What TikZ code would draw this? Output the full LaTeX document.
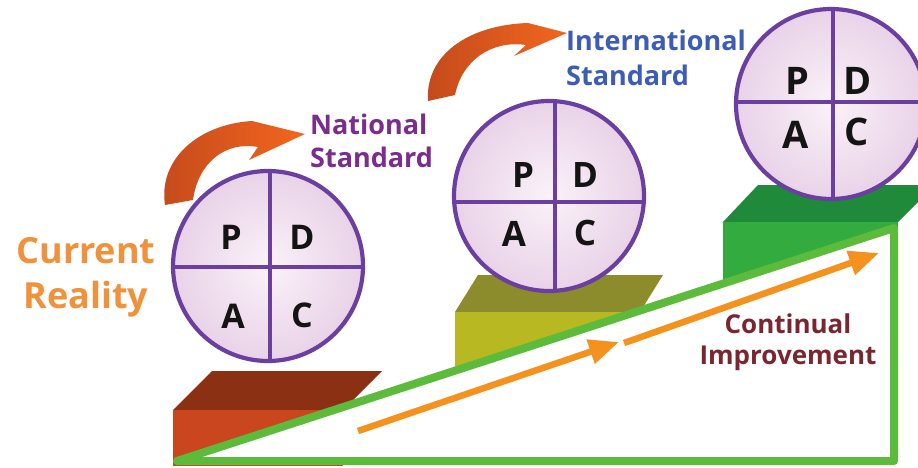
\documentclass[tikz,border=0pt]{standalone}
\usepackage{fontspec}
\setmainfont{Open Sans}
\usetikzlibrary{arrows.meta}
\definecolor{crColor}{HTML}{F0923C}
\definecolor{nsColor}{HTML}{7B2D8E}
\definecolor{isColor}{HTML}{3D5CB5}
\definecolor{ciColor}{HTML}{7A2630}
\definecolor{ringColor}{HTML}{6B3FA0}
\definecolor{discIn}{HTML}{FAF2F8}
\definecolor{discOut}{HTML}{E9D2E8}
\definecolor{brownTop}{HTML}{8C3014}
\definecolor{brownFront}{HTML}{C9461E}
\definecolor{oliveTop}{HTML}{8C8C2C}
\definecolor{oliveFront}{HTML}{B8B822}
\definecolor{greenTop}{HTML}{1E8A3A}
\definecolor{greenFront}{HTML}{33AB3F}
\definecolor{frameGreen}{HTML}{5CBB3A}
\definecolor{arrowOrange}{HTML}{F5921E}
\definecolor{curveA}{HTML}{C44A1C}
\definecolor{curveB}{HTML}{F2661E}
\tikzset{
  label font/.style={inner sep=0pt, align=center},
  letterbox/.style={inner sep=0pt, text=black!92, font=\fontsize{#1}{#1}\selectfont\bfseries},
  letterbox/.default=34,
  ringline/.style={draw=ringColor, line width=3.2pt},
  ringedge/.style={draw=ringColor, line width=4.2pt},
  oarrow/.style={draw=arrowOrange, line width=6.5pt, -{Triangle[length=30pt,width=24pt]}},
  curvefill/.style={left color=curveA, right color=curveB, draw=none},
}
\begin{document}
\begin{tikzpicture}[x=1pt,y=-1pt]
\useasboundingbox (0,0) rectangle (918,468);
\fill[white] (0,0) rectangle (918,468);

% platforms
\fill[brownTop] (212,371) -- (382,371) -- (343,410) -- (173,410) -- cycle;
\fill[brownFront] (173,410) rectangle (343,466);
\fill[oliveTop] (478,275) -- (663,275) -- (640,312) -- (455,312) -- cycle;
\fill[oliveFront] (455,312) rectangle (640,400);
\fill[greenTop] (758,185) -- (935,185) -- (898,222) -- (723,222) -- cycle;
\fill[greenFront] (723,222) rectangle (898,300);

% white ramp and green frame
\coordinate (g1) at (177,461);
\coordinate (g2) at (894,228);
\coordinate (g3) at (894,461);
\fill[white] (g1) -- (g2) -- (g3) -- cycle;
\draw[frameGreen, line width=8pt, line join=round] (g1) -- (g2) -- (g3) -- cycle;

% continual improvement arrows
\coordinate (o1) at (358,431);
\coordinate (o2) at (619,342);
\coordinate (o3) at (624,343);
\coordinate (o4) at (879,253);
\draw[oarrow] (o1) -- (o2);
\draw[oarrow] (o3) -- (o4);

% PDCA discs
\foreach \cx/\cy/\r/\vx/\hy [count=\i] in {268/266/95/270/267, 549/196/95/555/202, 831/104/95/833/102}{
  \shade[inner color=discIn, outer color=discOut] (\cx,\cy) circle (\r pt);
  \begin{scope}
    \clip (\cx,\cy) circle (\r pt);
    \draw[ringline] (\vx,\cy-\r-5) -- (\vx,\cy+\r+5);
    \draw[ringline] (\cx-\r-5,\hy) -- (\cx+\r+5,\hy);
  \end{scope}
  \draw[ringedge] (\cx,\cy) circle (\r pt);
}
\node[letterbox=34] (p1) at (231,237) {P};
\node[letterbox=34] (d1) at (302,237) {D};
\node[letterbox=34] (a1) at (233,316) {A};
\node[letterbox=34] (c1) at (302,315) {C};
\node[letterbox=35] (p2) at (523,175) {P};
\node[letterbox=35] (d2) at (585,175) {D};
\node[letterbox=35] (a2) at (514,234) {A};
\node[letterbox=35] (c2) at (585,233) {C};
\node[letterbox=38] (p3) at (797,81) {P};
\node[letterbox=38] (d3) at (858,81) {D};
\node[letterbox=38] (a3) at (796,135) {A};
\node[letterbox=38] (c3) at (857,132) {C};

% curved arrows
\shade[curvefill] (165,205) .. controls (158,158) and (200,124) .. (252,121)
  -- (305,134) -- (249,160) -- (258,147)
  .. controls (225,141) and (198,163) .. (193,200) -- cycle;
\shade[curvefill] (428,101) .. controls (425,55) and (468,25) .. (528,23)
  -- (567,33) -- (514,56) -- (526,45)
  .. controls (492,40) and (462,60) .. (455,95) -- cycle;

% labels
\node[label font, text=crColor, font=\fontsize{36}{45}\selectfont\bfseries] (cr) at (86,277) {Current\\Reality};
\node[label font, text=nsColor, align=left, anchor=west, font=\fontsize{27}{33}\selectfont\bfseries] (ns) at (310,141) {National\\Standard};
\node[label font, text=isColor, align=left, anchor=west, font=\fontsize{27}{35}\selectfont\bfseries] (is) at (566,58) {International\\Standard};
\node[label font, text=ciColor, font=\fontsize{26}{31}\selectfont\bfseries] (ci) at (788,342) {Continual\\Improvement};
\end{tikzpicture}
\end{document}
